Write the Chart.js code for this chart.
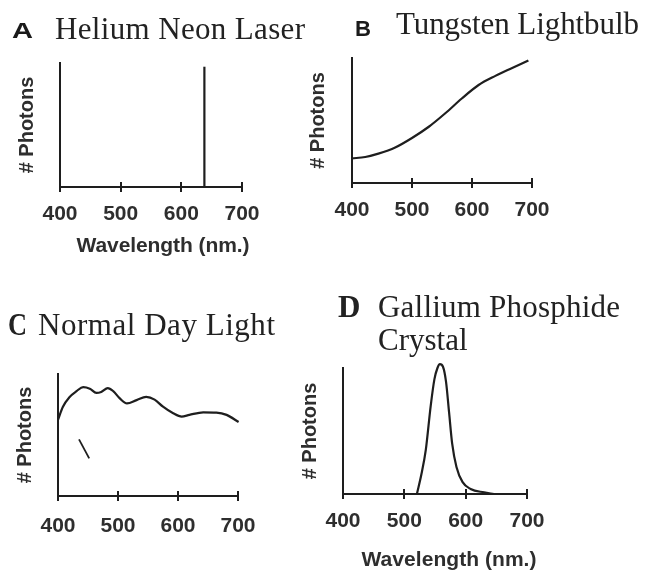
<!DOCTYPE html>
<html>
<head>
<meta charset="utf-8">
<script src="https://cdn.jsdelivr.net/npm/chart.js@4/dist/chart.umd.min.js"></script>
<style>
  html, body { margin: 0; padding: 0; background: #ffffff; }
  #wrap { position: relative; width: 646px; height: 571px; overflow: hidden; background: #fff; }
  canvas { position: absolute; }
  svg { position: absolute; left: 0; top: 0; }
</style>
</head>
<body>
<div id="wrap">
  <canvas id="cA" width="320" height="285" style="left:0px;top:0px"></canvas>
  <canvas id="cB" width="300" height="285" style="left:290px;top:0px"></canvas>
  <canvas id="cC" width="320" height="286" style="left:0px;top:285px"></canvas>
  <canvas id="cD" width="300" height="286" style="left:290px;top:285px"></canvas>
  <svg width="646" height="571" xmlns="http://www.w3.org/2000/svg">
    <g fill="#222" font-family="'Liberation Serif', 'Times New Roman', serif" font-size="31">
      <text x="55" y="39" textLength="250">Helium Neon Laser</text>
      <text x="396" y="34" textLength="243">Tungsten Lightbulb</text>
      <text x="8" y="335" font-weight="bold" textLength="19" lengthAdjust="spacingAndGlyphs">C</text>
      <text x="38" y="335" textLength="237">Normal Day Light</text>
      <text x="338" y="317" font-weight="bold">D</text>
      <text x="378" y="317" textLength="242">Gallium Phosphide</text>
      <text x="378" y="350">Crystal</text>
    </g>
    <g fill="#2e2e2e" font-family="'Liberation Sans', Arial, sans-serif" font-weight="bold">
      <text x="12" y="38" font-size="22" textLength="21" lengthAdjust="spacingAndGlyphs" fill="#1a1a1a">A</text>
      <text x="355" y="36" font-size="22" textLength="16" lengthAdjust="spacingAndGlyphs" fill="#1a1a1a">B</text>
      <text x="163" y="252" font-size="21" text-anchor="middle" textLength="173">Wavelength (nm.)</text>
      <text x="449" y="566" font-size="21" text-anchor="middle" textLength="175">Wavelength (nm.)</text>
    </g>
  </svg>
</div>
<script>
// ---- Data ----
const xTickValues = [400, 500, 600, 700];
const yAxisLabel = '# Photons';
const xAxisLabel = 'Wavelength (nm.)';

// A: Helium Neon Laser (single emission line)
const laserWavelength = [638, 638];
const laserPhotons = [0, 97];

// B: Tungsten Lightbulb
const tungstenWavelength = [400, 422, 444, 472, 500, 528, 556, 583, 611, 639, 667, 694];
const tungstenPhotons    = [19.7, 20.8, 23.5, 28.4, 36, 45, 56, 67.6, 78.4, 85.7, 92, 98];

// C: Normal Day Light
const daylightWavelength = [400, 408, 419, 431, 442, 453, 464, 472, 483, 492, 503, 515, 531, 547, 561, 575, 592, 606, 619, 642, 664, 681, 701];
const daylightPhotons    = [62.5, 73, 81, 86, 89.3, 88, 84.5, 85.3, 88.5, 86, 80, 75.9, 78.6, 81.2, 79, 73.2, 67.8, 65.1, 66.5, 68.6, 68.4, 66.5, 60.6];
// small stray stroke visible in panel C
const strokeWavelength = [435, 452];
const strokePhotons    = [46.4, 30.8];

// D: Gallium Phosphide Crystal
const gapWavelength = [520.5, 528, 535, 543, 549, 554, 558, 563, 568, 573, 578, 585, 595, 608, 630, 646];
const gapPhotons    = [0, 16, 35, 70, 91, 100, 103, 101, 89, 64.5, 40, 21.5, 9.4, 4, 1.3, 0];

// ---- Chart helpers ----
const INK = '#1e1e1e';
const TXT = '#2e2e2e';
const tickFont = { family: "'Liberation Sans', Arial, sans-serif", size: 21, weight: 'bold' };
const yTitleFont = { family: "'Liberation Sans', Arial, sans-serif", size: 20, weight: 'bold' };

function pts(xs, ys) { return xs.map((x, i) => ({ x: x, y: ys[i] })); }

const crossTicks = {
  id: 'crossTicks',
  afterDraw(chart) {
    const s = chart.scales.x, ctx = chart.ctx, b = chart.chartArea.bottom;
    ctx.save();
    ctx.strokeStyle = INK;
    ctx.lineWidth = 2;
    xTickValues.forEach(v => {
      const px = Math.round(s.getPixelForValue(v));
      ctx.beginPath();
      ctx.moveTo(px, b - 5);
      ctx.lineTo(px, b + 5);
      ctx.stroke();
    });
    ctx.restore();
  }
};

function makeChart(id, datasets, g) {
  return new Chart(document.getElementById(id), {
    type: 'line',
    data: { datasets: datasets },
    options: {
      responsive: false,
      animation: false,
      devicePixelRatio: 1,
      events: [],
      layout: { padding: { left: 0, top: g.top, right: g.right, bottom: 0 } },
      plugins: { legend: { display: false }, tooltip: { enabled: false } },
      scales: {
        x: {
          type: 'linear',
          min: 400, max: 700,
          grid: { display: false, drawTicks: false },
          border: { display: true, color: INK, width: 2 },
          afterBuildTicks: (s) => { s.ticks = xTickValues.map(v => ({ value: v })); },
          afterFit: (s) => { s.height = g.xh; },
          ticks: { font: tickFont, color: TXT, padding: g.tickPad, maxRotation: 0, autoSkip: false }
        },
        y: {
          type: 'linear',
          min: 0, max: 100,
          grid: { display: false, drawTicks: false },
          border: { display: true, color: INK, width: 2 },
          ticks: { display: false },
          afterFit: (s) => { s.width = g.yw; },
          title: { display: true, text: yAxisLabel, color: TXT, font: yTitleFont, padding: { top: g.titlePad, bottom: 0 } }
        }
      }
    },
    plugins: [crossTicks]
  });
}

function lineDs(xs, ys, extra) {
  return Object.assign({
    data: pts(xs, ys),
    borderColor: INK,
    borderWidth: 2.2,
    pointRadius: 0,
    fill: false,
    cubicInterpolationMode: 'monotone',
    clip: false
  }, extra || {});
}

makeChart('cA', [lineDs(laserWavelength, laserPhotons, { cubicInterpolationMode: 'default', tension: 0 })],
  { top: 63, right: 78, xh: 98, yw: 60, tickPad: 15, titlePad: 15 });

makeChart('cB', [lineDs(tungstenWavelength, tungstenPhotons)],
  { top: 58, right: 58, xh: 102, yw: 62, tickPad: 15, titlePad: 16 });

makeChart('cC', [lineDs(daylightWavelength, daylightPhotons),
                 lineDs(strokeWavelength, strokePhotons, { cubicInterpolationMode: 'default', tension: 0, borderWidth: 1.8 })],
  { top: 89, right: 82, xh: 75, yw: 58, tickPad: 18, titlePad: 13 });

makeChart('cD', [lineDs(gapWavelength, gapPhotons)],
  { top: 83, right: 63, xh: 77, yw: 53, tickPad: 15, titlePad: 8 });
</script>
</body>
</html>
